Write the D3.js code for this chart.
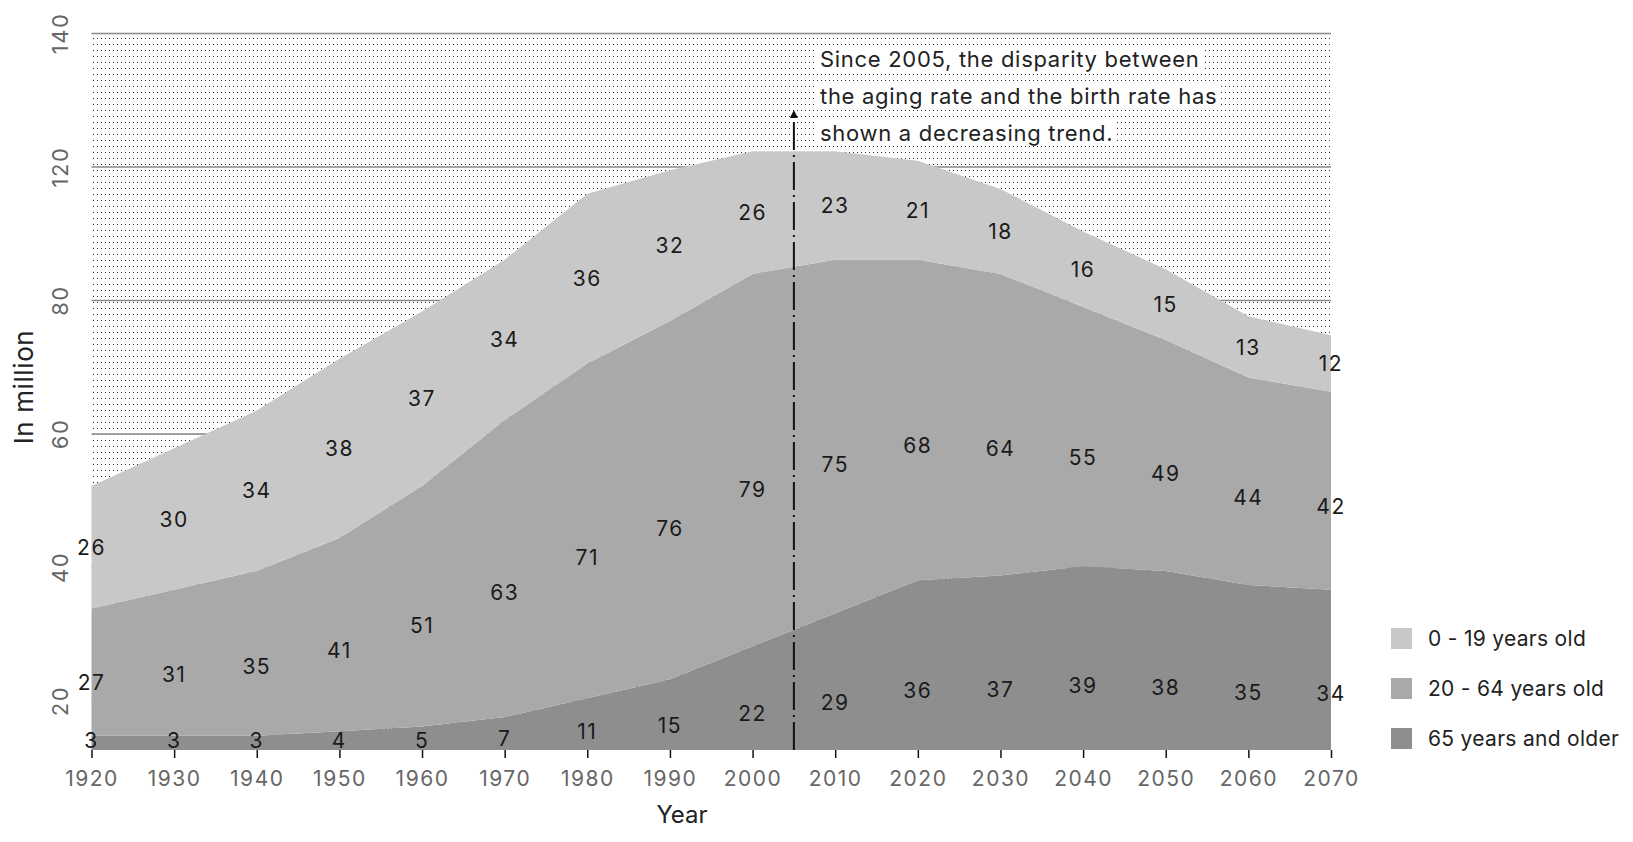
<!DOCTYPE html>
<html>
<head>
<meta charset="utf-8">
<script src="https://cdn.jsdelivr.net/npm/d3@7"></script>
<style>
  body { margin: 0; background: #fff; }
  text { font-family: Inter, "Open Sans", sans-serif; }
</style>
</head>
<body>
<script>
// data (millions)
const years = [1920, 1930, 1940, 1950, 1960, 1970, 1980, 1990, 2000, 2010, 2020, 2030, 2040, 2050, 2060, 2070];
const young = [26, 30, 34, 38, 37, 34, 36, 32, 26, 23, 21, 18, 16, 15, 13, 12];
const working = [27, 31, 35, 41, 51, 63, 71, 76, 79, 75, 68, 64, 55, 49, 44, 42];
const senior = [3, 3, 3, 4, 5, 7, 11, 15, 22, 29, 36, 37, 39, 38, 35, 34];
const yTickLabels = ['140', '120', '80', '60', '40', '20'];
const seriesNames = ['0 - 19 years old', '20 - 64 years old', '65 years and older'];
const noteLines = ['Since 2005, the disparity between', 'the aging rate and the birth rate has', 'shown a decreasing trend.'];
const noteYear = 2005;

const width = 1633, height = 842;
const plotL = 91.5, plotR = 1331, plotT = 33.5, plotB = 750;
const colors = {senior: '#8e8e8e', working: '#a9a9a9', young: '#c8c8c8'};

const table = years.map((y, i) => ({year: y, senior: senior[i], working: working[i], young: young[i]}));
const keys = ['senior', 'working', 'young'];
const stacked = d3.stack().keys(keys)(table);

const svg = d3.select('body').append('svg').attr('width', width).attr('height', height);

const x = d3.scaleLinear().domain([1920, 2070]).range([plotL, plotR]);
const y = d3.scaleLinear().domain([0, 152]).range([plotB, plotT]);
const yTicks = d3.scalePoint().domain(yTickLabels).range([plotT, 701]);

// dotted background
const defs = svg.append('defs');
const pat = defs.append('pattern').attr('id', 'dots').attr('patternUnits', 'userSpaceOnUse')
    .attr('width', 4).attr('height', 6);
pat.append('rect').attr('x', 1).attr('y', 2).attr('width', 1).attr('height', 1).attr('fill', '#2a2a2a');
defs.append('marker').attr('id', 'arrow').attr('viewBox', '0 0 10 10').attr('refX', 5).attr('refY', 5)
    .attr('markerWidth', 4).attr('markerHeight', 4).attr('orient', 'auto-start-reverse')
    .append('path').attr('d', 'M0,0 L10,5 L0,10 z').attr('fill', '#111');

svg.append('rect').attr('x', plotL).attr('y', plotT).attr('width', plotR - plotL).attr('height', plotB - plotT)
    .attr('fill', 'url(#dots)');

// gridlines
svg.append('g').selectAll('line').data(yTickLabels).join('line')
    .attr('x1', plotL).attr('x2', plotR)
    .attr('y1', d => yTicks(d)).attr('y2', d => yTicks(d))
    .attr('stroke', '#888').attr('stroke-width', 1.3);

// y tick labels (rotated)
svg.append('g').selectAll('text').data(yTickLabels).join('text')
    .attr('transform', d => `translate(68, ${yTicks(d)}) rotate(-90)`)
    .attr('text-anchor', 'middle').attr('font-size', 22).attr('fill', '#666')
    .attr('letter-spacing', 1.5)
    .text(d => d);

// areas
const area = d3.area().x(d => x(d.data.year)).y0(d => y(d[0])).y1(d => y(d[1]));
svg.append('g').selectAll('path').data(stacked).join('path')
    .attr('d', area).attr('fill', d => colors[d.key]);

// value labels
const frac = {senior: 0.35, working: 0.42, young: 0.5};
stacked.forEach(s => {
  svg.append('g').selectAll('text').data(s).join('text')
    .attr('x', d => x(d.data.year))
    .attr('y', d => Math.min(y(d[0] + (d[1] - d[0]) * frac[s.key]), plotB - 10))
    .attr('dy', '0.36em')
    .attr('text-anchor', 'middle').attr('font-size', 21).attr('fill', '#1a1a1a')
    .attr('letter-spacing', 1.5)
    .text(d => d.data[s.key]);
});

// x axis
const xAxis = svg.append('g').attr('transform', `translate(0, ${plotB})`)
    .call(d3.axisBottom(x).tickValues(years).tickFormat(d3.format('d')).tickSize(8).tickPadding(13));
xAxis.select('.domain').remove();
xAxis.selectAll('.tick line').attr('stroke', '#111').attr('stroke-width', 1.5);
xAxis.selectAll('.tick text').attr('font-size', 21).attr('fill', '#666')
    .attr('font-family', 'Inter, sans-serif').attr('letter-spacing', 1.5);

// axis titles
svg.append('text').attr('x', 682).attr('y', 823).attr('text-anchor', 'middle')
    .attr('font-size', 24).attr('fill', '#222').text('Year');
svg.append('text').attr('transform', 'translate(33, 387) rotate(-90)').attr('text-anchor', 'middle')
    .attr('font-size', 26).attr('fill', '#222').attr('letter-spacing', 0.6).text('In million');

// annotation
const nx = x(noteYear);
svg.append('line').attr('x1', nx).attr('x2', nx).attr('y1', plotB).attr('y2', 114)
    .attr('stroke', '#111').attr('stroke-width', 2)
    .attr('stroke-dasharray', '28,5,2,5')
    .attr('marker-end', 'url(#arrow)');

const note = svg.append('g');
noteLines.forEach((t, i) => {
  const txt = note.append('text').attr('x', 820).attr('y', 67 + i * 37)
      .attr('font-size', 22).attr('letter-spacing', 0.7).attr('fill', '#222').text(t);
  const b = txt.node().getBBox();
  note.insert('rect', 'text').attr('x', b.x - 3).attr('y', b.y)
      .attr('width', b.width + 6).attr('height', b.height).attr('fill', '#fff');
});

// legend
const legendKeys = ['young', 'working', 'senior'];
const lg = svg.append('g').selectAll('g').data(legendKeys).join('g')
    .attr('transform', (d, i) => `translate(1391, ${638 + i * 50})`);
lg.append('rect').attr('x', 0).attr('y', -10).attr('width', 21).attr('height', 21).attr('fill', d => colors[d]);
lg.append('text').attr('x', 37).attr('dy', '0.36em').attr('font-size', 21).attr('fill', '#222')
    .attr('letter-spacing', 0.3)
    .text((d, i) => seriesNames[i]);
</script>
</body>
</html>
